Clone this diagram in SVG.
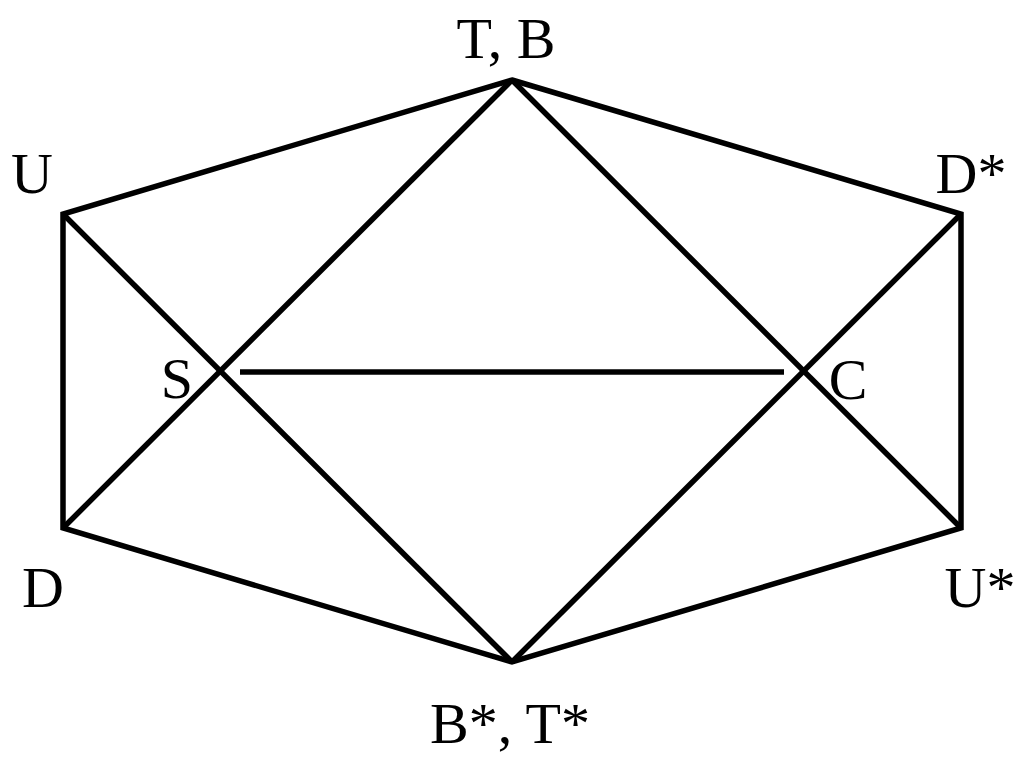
<svg xmlns="http://www.w3.org/2000/svg" width="1024" height="759" viewBox="0 0 1024 759">
<style>
.e{fill:none;stroke:#000;stroke-width:5.5;stroke-linejoin:miter;stroke-linecap:butt}
text{font-family:'Liberation Serif',Tinos,'Times New Roman',Times,serif;font-size:58px;fill:#000}
</style>
<rect width="1024" height="759" fill="#fff"/>
<g id="connectors">
<polygon class="e" points="512,80 961,214 961,528 512,662 63,528 63,214"/>
<line class="e" x1="63" y1="214" x2="512" y2="662"/>
<line class="e" x1="63" y1="528" x2="512" y2="80"/>
<line class="e" x1="512" y1="80" x2="961" y2="528"/>
<line class="e" x1="961" y1="214" x2="512" y2="662"/>
<line class="e" x1="240" y1="372" x2="784" y2="372"/>
</g>
<g id="node-TB"><text x="506" y="58" text-anchor="middle">T, B</text></g>
<g id="node-U"><text x="32" y="193" text-anchor="middle">U</text></g>
<g id="node-Dstar"><text x="971" y="193" text-anchor="middle">D*</text></g>
<g id="node-S"><text x="177" y="398" text-anchor="middle">S</text></g>
<g id="node-C"><text x="848" y="399" text-anchor="middle">C</text></g>
<g id="node-D"><text x="43" y="607" text-anchor="middle">D</text></g>
<g id="node-Ustar"><text x="980" y="607" text-anchor="middle">U*</text></g>
<g id="node-BT"><text x="510" y="743" text-anchor="middle">B*, T*</text></g>
</svg>
